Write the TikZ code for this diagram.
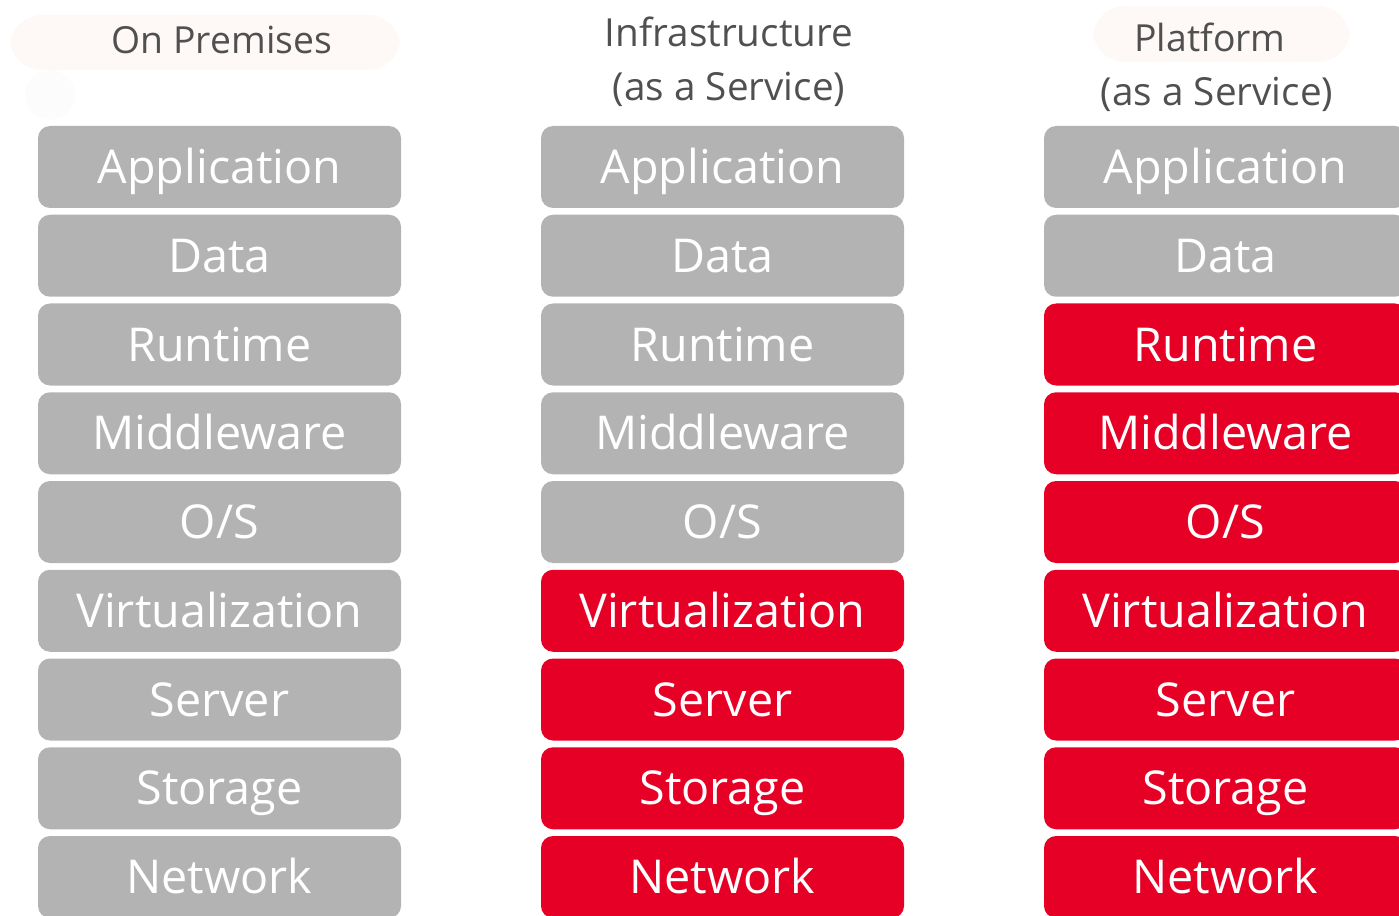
\documentclass[tikz,border=0pt]{standalone}
\usepackage{fontspec}
\setmainfont{Open Sans}
\definecolor{boxgray}{HTML}{B3B3B3}
\definecolor{boxred}{HTML}{E60026}
\definecolor{hdr}{HTML}{505050}
\definecolor{blob}{HTML}{FEF8F7}
\definecolor{dot}{HTML}{FCFCFC}
\begin{document}
\begin{tikzpicture}[x=0.75pt,y=-0.75pt,
  layerbox/.style={rounded corners=9pt, inner sep=0pt, minimum width=272.25pt, minimum height=61.5pt,
    text=white, font=\fontsize{35}{40}\selectfont, text height=25pt, text depth=0pt},
  hdrtext/.style={text=hdr, inner sep=0pt, font=\fontsize{28}{32}\selectfont, text height=20pt, text depth=0pt},
  hdrwide/.style={hdrtext, font=\fontsize{29}{32}\selectfont}]
\useasboundingbox (0,0) rectangle (1399,916);
\clip (0,0) rectangle (1399,916);
% faint header backdrops
\fill[blob, rounded corners=24pt] (10,15) rectangle (400,70);
\fill[blob, rounded corners=24pt] (1093,6) rectangle (1350,62);
\fill[dot] (50,95) circle (25);
% headers
\node[hdrtext] (h1) at (222,40) {On Premises};
\node[hdrwide] (h2a) at (729,33) {Infrastructure};
\node[hdrwide] (h2b) at (729,87) {(as a Service)};
\node[hdrtext] (h3a) at (1210,38) {Platform};
\node[hdrwide] (h3b) at (1217,92) {(as a Service)};
% layers
\foreach \lbl [count=\i from 0] in {Application,Data,Runtime,Middleware,O/S,Virtualization,Server,Storage,Network}{
  \pgfmathsetmacro{\yy}{167+88.75*\i}
  \node[layerbox, fill=boxgray] (op\i) at (219.5,\yy) {\lbl};
  \ifnum\i<5 \def\fc{boxgray}\else\def\fc{boxred}\fi
  \node[layerbox, fill=\fc] (ia\i) at (722.5,\yy) {\lbl};
  \ifnum\i<2 \def\fc{boxgray}\else\def\fc{boxred}\fi
  \node[layerbox, fill=\fc] (pa\i) at (1225.5,\yy) {\lbl};
}
\end{tikzpicture}
\end{document}
